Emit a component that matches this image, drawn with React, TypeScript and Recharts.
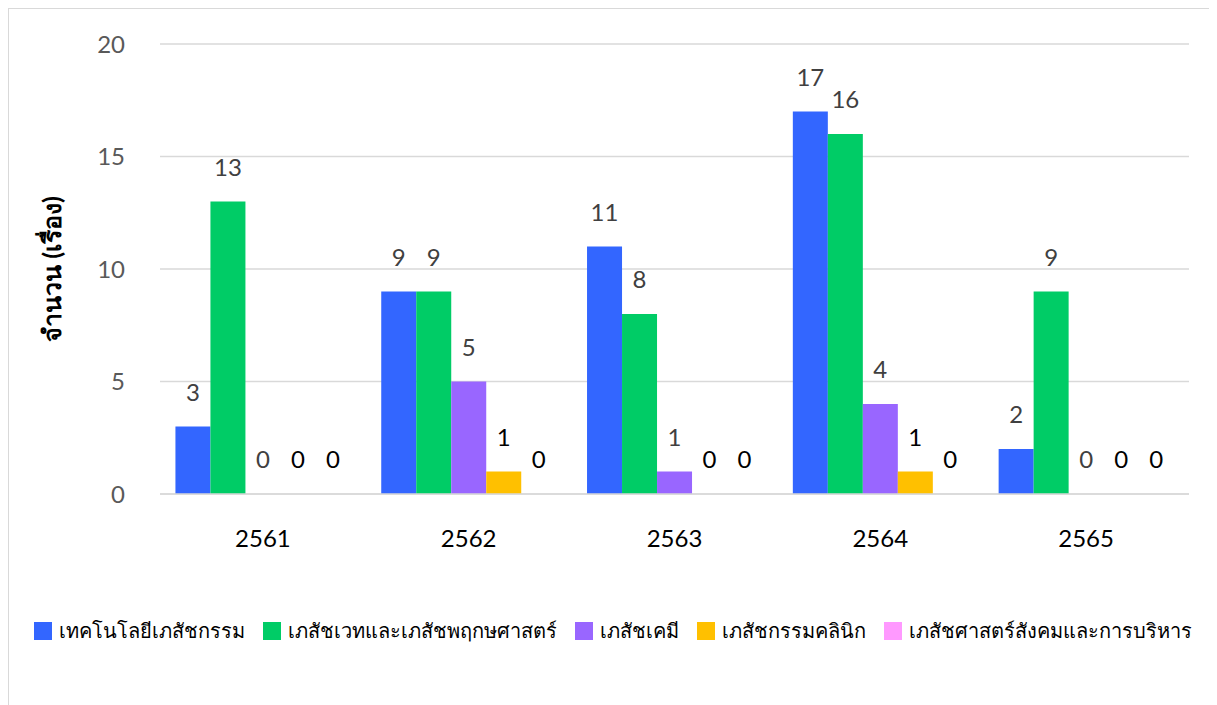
import {Bar, BarChart, CartesianGrid, LabelList, Legend, XAxis, YAxis} from "recharts";

const years = ["2561", "2562", "2563", "2564", "2565"];

const techPharm = [3, 9, 11, 17, 2];
const pharmacognosy = [13, 9, 8, 16, 9];
const pharmChem = [0, 5, 1, 4, 0];
const clinicalPharm = [0, 1, 0, 1, 0];
const socialPharm = [0, 0, 0, 0, 0];

const yTicks = [0, 5, 10, 15, 20];

const series = [
    {key: "tech", name: "เทคโนโลยีเภสัชกรรม", values: techPharm, color: "#3366FF", labelColor: "#404040"},
    {key: "cog", name: "เภสัชเวทและเภสัชพฤกษศาสตร์", values: pharmacognosy, color: "#00CC66", labelColor: "#404040"},
    {key: "chem", name: "เภสัชเคมี", values: pharmChem, color: "#9966FF", labelColor: "#404040"},
    {key: "clin", name: "เภสัชกรรมคลินิก", values: clinicalPharm, color: "#FFC000", labelColor: "#000000"},
    {key: "soc", name: "เภสัชศาสตร์สังคมและการบริหาร", values: socialPharm, color: "#FF99FF", labelColor: "#000000"},
];

const data = years.map((year, i) => {
    const row: any = {year};
    series.forEach(s => {
        row[s.key] = s.values[i];
    });
    return row;
});

const FONT = "Lato, 'Noto Sans', sans-serif";

function ChartLegend() {
    return (
        <div style={{display: "flex", justifyContent: "center", alignItems: "center", height: 24,
            fontFamily: FONT, fontSize: 20, color: "#000", whiteSpace: "nowrap"}}>
            {series.map(s => (
                <div key={s.key} style={{display: "flex", alignItems: "center", margin: "0 9px"}}>
                    <span style={{display: "inline-block", width: 18, height: 18, background: s.color, marginRight: 7}}/>
                    <span>{s.name}</span>
                </div>
            ))}
        </div>
    );
}

function YLabel(props: any) {
    const vb = props.viewBox;
    const cx = 42;
    const cy = vb.y + vb.height / 2;
    return (
        <text x={cx} y={cy} transform={`rotate(-90, ${cx}, ${cy})`} textAnchor="middle" dominantBaseline="central"
              fontFamily={FONT} fontSize={25} fontWeight="bold" fill="#000">
            จำนวน (เรื่อง)
        </text>
    );
}

export default function App() {
    return (
        <div style={{width: 1209, height: 697, boxSizing: "border-box", borderLeft: "1px solid #d9d9d9", borderTop: "1px solid #d9d9d9", background: "#fff"}}>
            <BarChart width={1208} height={696} data={data}
                      margin={{top: 35, right: 28, left: 91, bottom: 157}}
                      barCategoryGap="7.5%" barGap={0}>
                <CartesianGrid vertical={false} stroke="#d9d9d9" strokeWidth={1.5}/>
                <XAxis dataKey="year" axisLine={{stroke: "#d9d9d9", strokeWidth: 1.5}} tickLine={false} tickSize={0}
                       tickMargin={36} height={30}
                       tick={{fill: "#000", fontSize: 24, fontFamily: FONT}}/>
                <YAxis domain={[0, 20]} ticks={yTicks} axisLine={false} tickLine={false} tickSize={0} tickMargin={35}
                       width={60} tick={{fill: "#595959", fontSize: 24, fontFamily: FONT}}
                       label={<YLabel/>}/>
                <Legend verticalAlign="bottom" wrapperStyle={{bottom: 62, left: 0, width: 1208}}
                        content={() => <ChartLegend/>}/>
                {series.map(s => (
                    <Bar key={s.key} dataKey={s.key} name={s.name} fill={s.color} minPointSize={0.01}
                         isAnimationActive={false}>
                        <LabelList dataKey={s.key} position="top" offset={26} fill={s.labelColor}
                                   fontSize={24} fontFamily={FONT}/>
                    </Bar>
                ))}
            </BarChart>
        </div>
    );
}
